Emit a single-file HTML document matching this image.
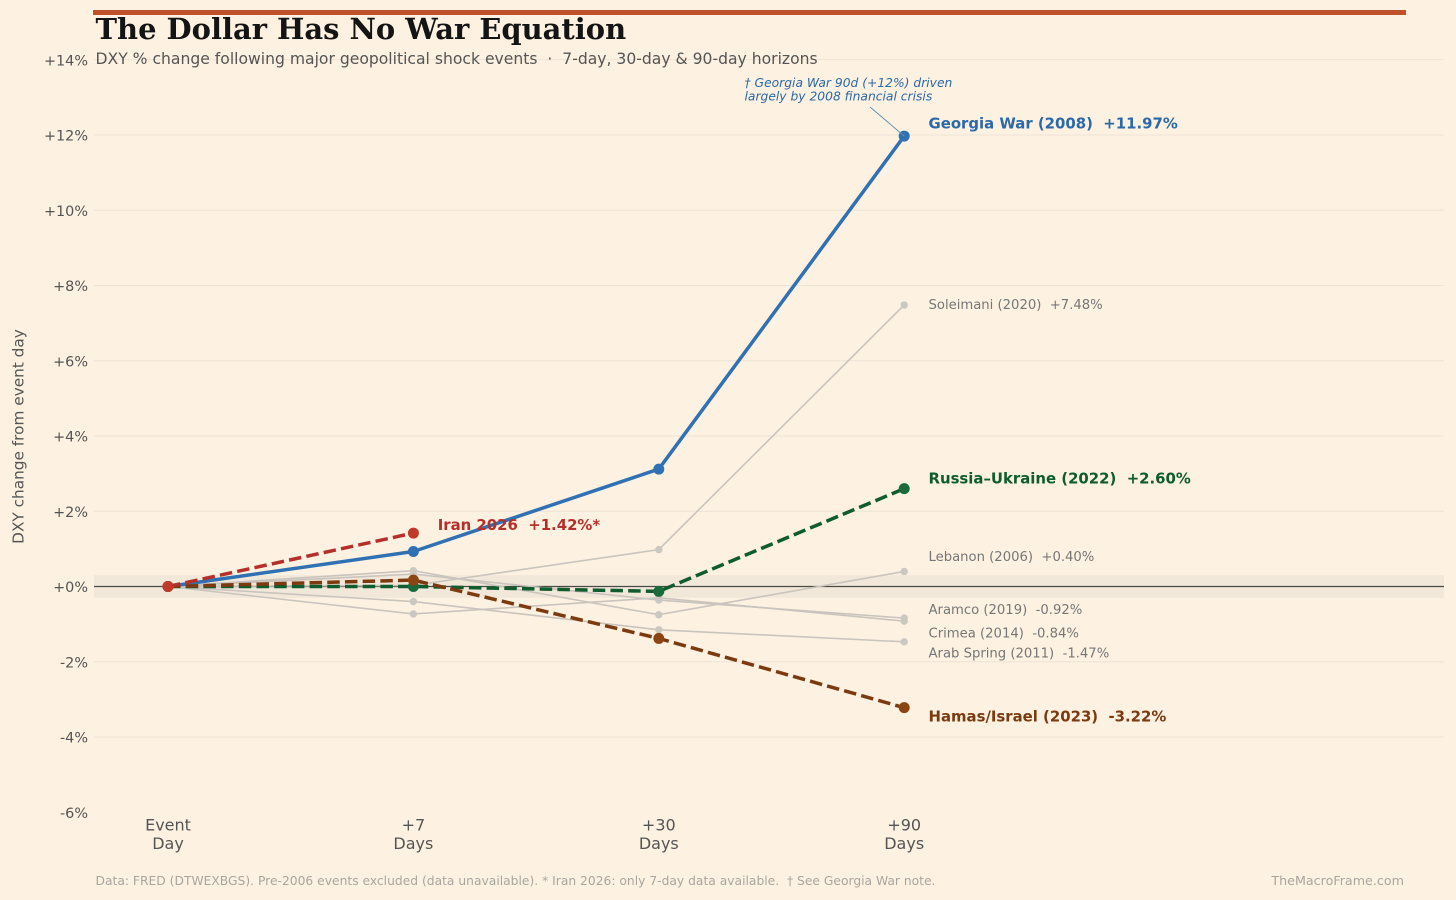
<!DOCTYPE html>
<html lang="en">
<head>
<meta charset="utf-8">
<title>The Dollar Has No War Equation</title>
<style>
  html, body { margin: 0; padding: 0; background: #fdf1e1; }
  body { width: 1456px; height: 900px; overflow: hidden; }
  svg { display: block; font-family: "DejaVu Sans", "Liberation Sans", sans-serif; }
  svg text { white-space: pre; }
</style>
</head>
<body>
<svg id="chart" width="1456" height="900" viewBox="0 0 1456 900" xmlns="http://www.w3.org/2000/svg">
  <rect x="0" y="0" width="1456" height="900" fill="#fdf1e1"/>
  <rect x="93" y="10" width="1313" height="5" fill="#c0522b"/>
  <g id="grid"></g>
  <g id="band"></g>
  <g id="yticks"></g>
  <g id="xticks"></g>
  <g id="series"></g>
  <g id="labels"></g>
  <text x="95.5" y="39" font-family="'DejaVu Serif','Liberation Serif',serif" font-weight="700" font-size="28.95" fill="#141414">The Dollar Has No War Equation</text>
  <text x="95.5" y="64" font-size="15.6" fill="#555555">DXY % change following major geopolitical shock events  ·  7-day, 30-day &amp; 90-day horizons</text>
  <text transform="translate(23.5 436.5) rotate(-90)" text-anchor="middle" font-size="15.3" fill="#555555">DXY change from event day</text>
  <text x="744.5" y="87" font-size="12.3" font-style="italic" fill="#2b69a8">† Georgia War 90d (+12%) driven</text>
  <text x="744.5" y="100.5" font-size="12.3" font-style="italic" fill="#2b69a8">largely by 2008 financial crisis</text>
  <text x="95.5" y="885" font-size="12.3" fill="#aaa69e">Data: FRED (DTWEXBGS). Pre-2006 events excluded (data unavailable). * Iran 2026: only 7-day data available.  † See Georgia War note.</text>
  <text x="1404" y="885" text-anchor="end" font-size="12.7" fill="#aaa69e">TheMacroFrame.com</text>
</svg>
<script>
const horizons = ["Event|Day", "+7|Days", "+30|Days", "+90|Days"];
const yTickValues = [14, 12, 10, 8, 6, 4, 2, 0, -2, -4, -6];

const soleimaniValues = [0, 0.03, 0.98, 7.48];
const lebanonValues = [0, 0.42, -0.75, 0.40];
const aramcoValues = [0, -0.73, -0.30, -0.92];
const crimeaValues = [0, 0.33, -0.36, -0.84];
const arabSpringValues = [0, -0.40, -1.15, -1.47];
const georgiaValues = [0, 0.93, 3.12, 11.97];
const russiaValues = [0, 0.00, -0.13, 2.60];
const hamasValues = [0, 0.17, -1.38, -3.22];
const iranValues = [0, 1.42];

const svgNS = "http://www.w3.org/2000/svg";
const plotLeft = 94;
const plotRight = 1444;

function xScale(i) { return 168 + i * 245.4; }
function yScale(v) { return 586.5 - v * 37.63; }
function fmtTick(v) { return (v < 0 ? "-" : "+") + Math.abs(v) + "%"; }
function fmtValue(v) { return (v < 0 ? "-" : "+") + Math.abs(v).toFixed(2) + "%"; }
function slug(s) { return s.toLowerCase().replace(/[^a-z0-9]+/g, "-").replace(/^-|-$/g, ""); }

function make(tag, attrs, parent) {
  const node = document.createElementNS(svgNS, tag);
  for (const k in attrs) node.setAttribute(k, attrs[k]);
  parent.appendChild(node);
  return node;
}

const gridG = document.getElementById("grid");
const bandG = document.getElementById("band");
const yG = document.getElementById("yticks");
const xG = document.getElementById("xticks");
const seriesG = document.getElementById("series");
const labelG = document.getElementById("labels");

yTickValues.forEach(function (v) {
  if (v !== 0 && v !== -6) {
    const line = make("line", { x1: plotLeft, x2: plotRight, y1: yScale(v), y2: yScale(v), stroke: "#ede3d7", "stroke-width": 1 }, gridG);
    
    
  }
  const t = make("text", { x: 88, y: yScale(v) + 5.7, "text-anchor": "end", "font-size": 14.4, fill: "#555555" }, yG);
  
  
  t.textContent = fmtTick(v);
});

const band = make("rect", { x: plotLeft, y: yScale(0.3), width: plotRight - plotLeft, height: yScale(-0.3) - yScale(0.3), fill: "#f2e8da" }, bandG);


const zero = make("line", { x1: plotLeft, x2: plotRight, y1: yScale(0), y2: yScale(0), stroke: "#4a4a42", "stroke-width": 1.2 }, bandG);



horizons.forEach(function (h, i) {
  const parts = h.split("|");
  parts.forEach(function (p, j) {
    const t = make("text", { x: xScale(i), y: 830.5 + j * 18.5, "text-anchor": "middle", "font-size": 16, fill: "#555555" }, xG);
    
    
    t.textContent = p;
  });
});

function drawGrey(values, key) {
  const pts = values.map(function (v, i) { return xScale(i) + "," + yScale(v); }).join(" ");
  const line = make("polyline", { points: pts, fill: "none", stroke: "#c9c4bd", "stroke-width": 1.6 }, seriesG);
  
  
  values.forEach(function (v, i) {
    const c = make("circle", { cx: xScale(i), cy: yScale(v), r: 3.7, fill: "#cbc7c1" }, seriesG);
    
    
  });
}

function drawMain(values, key, lineColor, pointColor, dashed) {
  const pts = values.map(function (v, i) { return xScale(i) + "," + yScale(v); }).join(" ");
  const attrs = { points: pts, fill: "none", stroke: lineColor, "stroke-width": 3.5, "stroke-linejoin": "round" };
  if (dashed) attrs["stroke-dasharray"] = "12.5 5.2";
  const line = make("polyline", attrs, seriesG);
  
  
  values.forEach(function (v, i) {
    const c = make("circle", { cx: xScale(i), cy: yScale(v), r: 5.5, fill: pointColor }, seriesG);
    
    
  });
}

drawGrey(soleimaniValues, "soleimani");
drawGrey(lebanonValues, "lebanon");
drawGrey(aramcoValues, "aramco");
drawGrey(crimeaValues, "crimea");
drawGrey(arabSpringValues, "arab-spring");

drawMain(georgiaValues, "georgia-war", "#3071b4", "#3071b4", false);
drawMain(russiaValues, "russia-ukraine", "#0f5c2e", "#1a6b3c", true);
drawMain(hamasValues, "hamas-israel", "#7b3a10", "#8b4513", true);
drawMain(iranValues, "iran", "#b5302a", "#c0392b", true);

const leader = make("line", { x1: xScale(3) - 34, y1: yScale(11.97) - 29, x2: xScale(3), y2: yScale(11.97), stroke: "#6b93b5", "stroke-width": 1 }, seriesG);



function drawLabel(name, values, nudge, color, bold, suffix) {
  const last = values.length - 1;
  const t = make("text", {
    x: xScale(last) + 24.3,
    y: yScale(values[last]) + nudge,
    "font-size": bold ? 14.9 : 13.2,
    "font-weight": bold ? 700 : 400,
    fill: color
  }, labelG);
  
  
  t.textContent = name + "  " + fmtValue(values[last]) + (suffix || "");
}

drawLabel("Georgia War (2008)", georgiaValues, -7.5, "#2b69a8", true);
drawLabel("Soleimani (2020)", soleimaniValues, 4, "#777777", false);
drawLabel("Russia–Ukraine (2022)", russiaValues, -5, "#0f5c2e", true);
drawLabel("Iran 2026", iranValues, -3.2, "#b5302a", true, "*");
drawLabel("Lebanon (2006)", lebanonValues, -10.5, "#777777", false);
drawLabel("Aramco (2019)", aramcoValues, -7, "#777777", false);
drawLabel("Crimea (2014)", crimeaValues, 19.5, "#777777", false);
drawLabel("Arab Spring (2011)", arabSpringValues, 15.5, "#777777", false);
drawLabel("Hamas/Israel (2023)", hamasValues, 14, "#7b3a10", true);
</script>
</body>
</html>
